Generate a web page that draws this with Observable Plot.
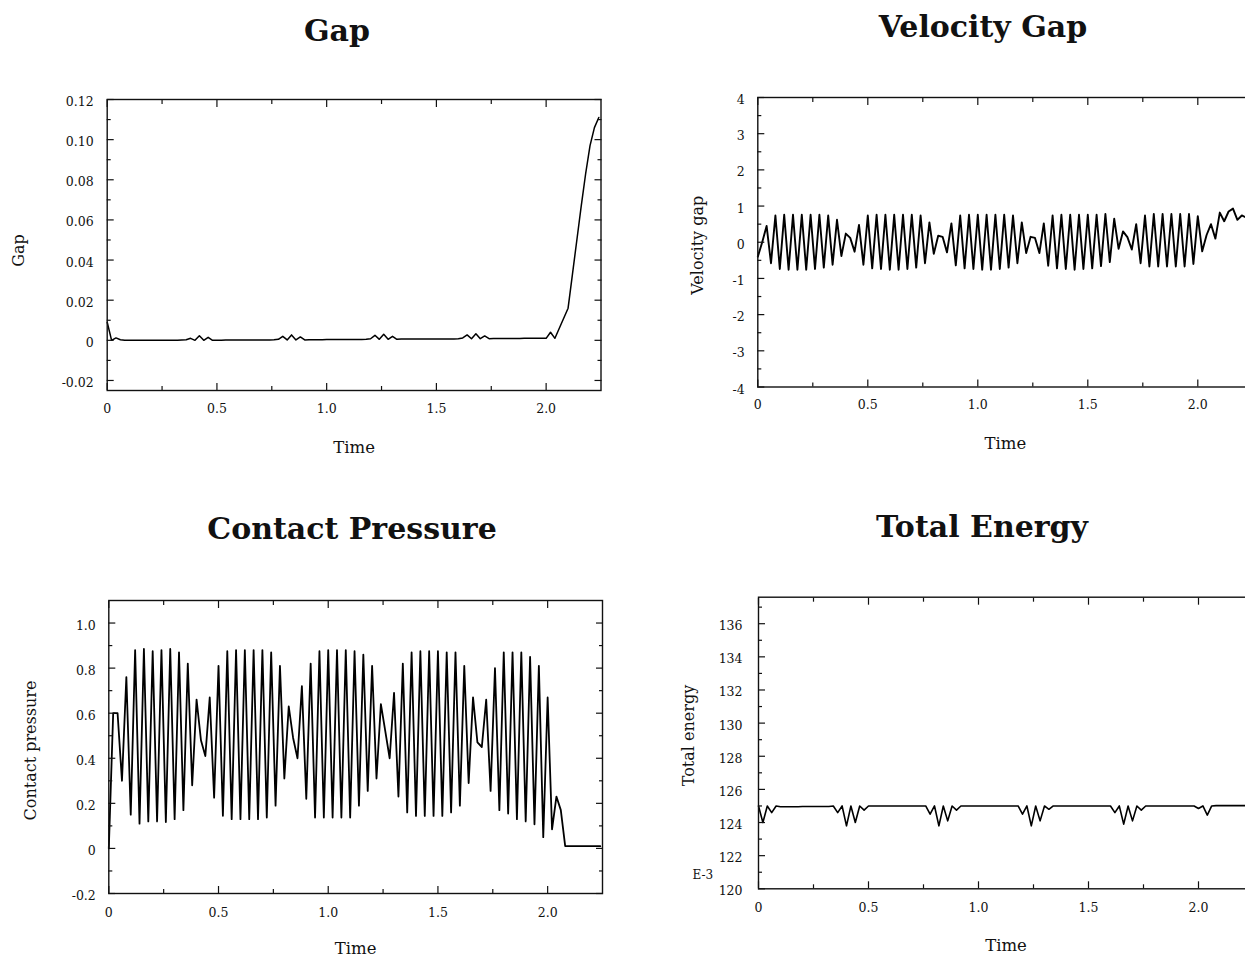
<!DOCTYPE html>
<html>
<head>
<meta charset="utf-8">
<script src="https://cdn.jsdelivr.net/npm/d3@7"></script>
<script src="https://cdn.jsdelivr.net/npm/@observablehq/plot@0.6"></script>
<style>
  html, body { margin: 0; padding: 0; background: #fff; }
  body { width: 1245px; height: 957px; overflow: hidden; position: relative; font-family: "DejaVu Serif", serif; color: #111; }
  .panel { position: absolute; }
  .panel svg { max-width: none !important; }
  .title { position: absolute; width: 500px; margin-left: -250px; text-align: center;
           font-family: "DejaVu Serif", serif; font-weight: bold; font-size: 30px; line-height: 30px; color: #111; }
</style>
</head>
<body>
<script>
// Simulation output, sampled every 0.02 time units (t = 0 … 2.24)
const time = d3.range(113).map(i => +(i * 0.02).toFixed(2));

const gap = [
  0.009, 0.0, 0.0012, 0.0003, 0.0, 0.0, 0.0, 0.0, 0.0, 0.0,
  0.0, 0.0, 0.0, 0.0, 0.0, 0.0, 0.0, 0.0002, 0.0003, 0.001,
  0.0, 0.0023, 0.0, 0.0015, 0.0, 0.0, 0.0, 0.0002, 0.0002, 0.0002,
  0.0002, 0.0002, 0.0002, 0.0002, 0.0002, 0.0002, 0.0002, 0.0002, 0.0003, 0.0005,
  0.002, 0.0002, 0.0027, 0.0002, 0.0017, 0.0002, 0.0003, 0.0003, 0.0003, 0.0003,
  0.0004, 0.0004, 0.0004, 0.0004, 0.0004, 0.0004, 0.0004, 0.0004, 0.0004, 0.0005,
  0.0008, 0.0025, 0.0005, 0.003, 0.0005, 0.002, 0.0005, 0.0006, 0.0006, 0.0006,
  0.0006, 0.0006, 0.0006, 0.0006, 0.0006, 0.0006, 0.0006, 0.0007, 0.0007, 0.0007,
  0.0008, 0.0012, 0.0027, 0.0008, 0.0033, 0.0008, 0.0022, 0.0008, 0.0009, 0.0009,
  0.0009, 0.0009, 0.0009, 0.0009, 0.0009, 0.001, 0.001, 0.001, 0.001, 0.001,
  0.001, 0.004, 0.001, 0.006, 0.011, 0.016, 0.033, 0.05, 0.067, 0.083,
  0.097, 0.106, 0.111
];

const velocityGap = [
  -0.40, 0.00, 0.45, -0.58, 0.74, -0.74, 0.76, -0.76, 0.76, -0.76,
  0.76, -0.76, 0.76, -0.74, 0.76, -0.70, 0.74, -0.62, 0.62, -0.38,
  0.24, 0.12, -0.26, 0.48, -0.62, 0.74, -0.72, 0.76, -0.74, 0.76,
  -0.76, 0.76, -0.76, 0.76, -0.74, 0.76, -0.70, 0.74, -0.58, 0.55,
  -0.32, 0.18, 0.15, -0.28, 0.52, -0.64, 0.74, -0.72, 0.76, -0.74,
  0.76, -0.76, 0.76, -0.76, 0.76, -0.74, 0.76, -0.70, 0.74, -0.58,
  0.55, -0.30, 0.15, 0.12, -0.30, 0.52, -0.65, 0.74, -0.72, 0.76,
  -0.74, 0.76, -0.76, 0.76, -0.74, 0.76, -0.72, 0.76, -0.66, 0.78,
  -0.55, 0.65, -0.18, 0.30, 0.14, -0.20, 0.50, -0.58, 0.74, -0.67,
  0.78, -0.67, 0.78, -0.67, 0.78, -0.67, 0.78, -0.67, 0.78, -0.60,
  0.72, -0.25, 0.20, 0.50, 0.10, 0.82, 0.58, 0.85, 0.93, 0.62,
  0.74, 0.68, 0.72
];

const contactPressure = [
  0.0, 0.6, 0.6, 0.30, 0.76, 0.15, 0.88, 0.11, 0.885, 0.12,
  0.875, 0.12, 0.88, 0.117, 0.885, 0.13, 0.87, 0.17, 0.82, 0.28,
  0.66, 0.48, 0.41, 0.67, 0.225, 0.81, 0.145, 0.875, 0.13, 0.88,
  0.13, 0.88, 0.13, 0.88, 0.13, 0.88, 0.137, 0.87, 0.19, 0.81,
  0.31, 0.63, 0.49, 0.40, 0.72, 0.22, 0.82, 0.137, 0.875, 0.137,
  0.88, 0.137, 0.88, 0.137, 0.88, 0.137, 0.875, 0.19, 0.86, 0.255,
  0.81, 0.31, 0.64, 0.52, 0.40, 0.69, 0.23, 0.82, 0.16, 0.87,
  0.144, 0.875, 0.144, 0.875, 0.144, 0.875, 0.144, 0.87, 0.16, 0.87,
  0.19, 0.81, 0.29, 0.67, 0.47, 0.45, 0.66, 0.255, 0.80, 0.17,
  0.87, 0.155, 0.87, 0.13, 0.87, 0.12, 0.85, 0.107, 0.81, 0.05,
  0.67, 0.085, 0.23, 0.17, 0.01, 0.01, 0.01, 0.01, 0.01, 0.01,
  0.01, 0.01, 0.01
];

// total energy, in units of 1e-3
const totalEnergy = [
  125.0, 124.0, 125.0, 124.6, 125.0, 124.95, 124.95, 124.95, 124.95, 124.95,
  124.97, 124.97, 124.97, 124.97, 124.97, 124.97, 124.97, 125.0, 124.6, 125.0,
  123.8, 125.0, 124.0, 125.0, 124.75, 125.0, 125.0, 125.0, 125.0, 125.0,
  125.0, 125.0, 125.0, 125.0, 125.0, 125.0, 125.0, 125.0, 125.0, 124.5,
  125.0, 123.8, 125.0, 124.1, 125.0, 124.75, 125.0, 125.0, 125.0, 125.0,
  125.0, 125.0, 125.0, 125.0, 125.0, 125.0, 125.0, 125.0, 125.0, 125.0,
  124.5, 125.0, 123.8, 125.0, 124.1, 125.0, 124.8, 125.0, 125.0, 125.0,
  125.0, 125.0, 125.0, 125.0, 125.0, 125.0, 125.0, 125.0, 125.0, 125.0,
  125.0, 124.6, 125.0, 123.9, 125.0, 124.1, 125.0, 124.75, 125.0, 125.0,
  125.0, 125.0, 125.0, 125.0, 125.0, 125.0, 125.0, 125.0, 125.0, 125.0,
  124.85, 125.0, 124.45, 125.0, 125.02, 125.02, 125.02, 125.02, 125.02, 125.02,
  125.02, 125.02, 125.02
];

// tick values
const timeMajor = [0, 0.5, 1.0, 1.5, 2.0];
const timeMinor = [0.25, 0.75, 1.25, 1.75];
const gapMajor = [-0.02, 0, 0.02, 0.04, 0.06, 0.08, 0.10, 0.12];
const gapMinor = [-0.01, 0.01, 0.03, 0.05, 0.07, 0.09, 0.11];
const velMajor = [-4, -3, -2, -1, 0, 1, 2, 3, 4];
const velMinor = [-3.5, -2.5, -1.5, -0.5, 0.5, 1.5, 2.5, 3.5];
const presMajor = [-0.2, 0, 0.2, 0.4, 0.6, 0.8, 1.0];
const presMinor = [-0.1, 0.1, 0.3, 0.5, 0.7, 0.9];
const energyMajor = [120, 122, 124, 126, 128, 130, 132, 134, 136];
const energyMinor = [121, 123, 125, 127, 129, 131, 133, 135, 137];

const hyphen = s => s.replace("\u2212", "-");
const fmtTime = d => d === 0 ? "0" : d.toFixed(1);
const fmtGap = d => d === 0 ? "0" : hyphen(d.toFixed(2));
const fmtVel = d => hyphen(String(d));
const fmtPres = d => d === 0 ? "0" : hyphen(d.toFixed(1));
const fmtEnergy = d => String(d);

const ink = "#111";

function panel(cfg) {
  const {left, top, width, height, frame, series, yDomain, yMajor, yMinor, yFormat,
         yLabel, yLabelDx, yLabelDy = 0, timeDy, xPad, yPad, lineWidth, extra = []} = cfg;
  const data = time.map((t, i) => ({t, v: series[i]}));
  const tick = {stroke: ink, strokeWidth: 1.2, fill: null, label: null};
  const chart = Plot.plot({
    width, height,
    marginLeft: frame.L - left,
    marginRight: left + width - frame.R,
    marginTop: frame.T - top,
    marginBottom: top + height - frame.B,
    style: {fontFamily: '"DejaVu Serif", serif', fontSize: "12.5px", color: ink, background: "transparent", overflow: "visible"},
    x: {domain: [0, 2.25], label: null},
    y: {domain: yDomain, label: null},
    marks: [
      Plot.line(data, {x: "t", y: "v", stroke: "#000", strokeWidth: lineWidth}),
      Plot.frame({stroke: ink, strokeWidth: 1.4}),
      Plot.axisX(timeMajor, {anchor: "bottom", tickSize: 0, tickPadding: xPad, tickFormat: fmtTime, fill: ink, label: null}),
      Plot.axisX(timeMajor, {anchor: "bottom", tickSize: -7, ...tick}),
      Plot.axisX(timeMinor, {anchor: "bottom", tickSize: -4, ...tick}),
      Plot.axisX(timeMajor, {anchor: "top", tickSize: -7, ...tick}),
      Plot.axisX(timeMinor, {anchor: "top", tickSize: -4, ...tick}),
      Plot.axisY(yMajor, {anchor: "left", tickSize: 0, tickPadding: yPad, dy: 2.5, tickFormat: yFormat, fill: ink, label: null}),
      Plot.axisY(yMajor, {anchor: "left", tickSize: -7, ...tick}),
      Plot.axisY(yMinor, {anchor: "left", tickSize: -4, ...tick}),
      Plot.axisY(yMajor, {anchor: "right", tickSize: -7, ...tick}),
      Plot.axisY(yMinor, {anchor: "right", tickSize: -4, ...tick}),
      Plot.text(["Time"], {frameAnchor: "bottom", dy: timeDy, fontSize: 16.5, fill: ink}),
      Plot.text([yLabel], {frameAnchor: "left", textAnchor: "middle", dx: yLabelDx, dy: yLabelDy, rotate: -90, fontSize: 16, fill: ink}),
      ...extra
    ]
  });
  const div = document.createElement("div");
  div.className = "panel";
  div.style.left = left + "px";
  div.style.top = top + "px";
  div.style.width = width + "px";
  div.style.height = height + "px";
  div.appendChild(chart);
  document.body.appendChild(div);
}

function title(text, cx, top) {
  const el = document.createElement("div");
  el.className = "title";
  el.textContent = text;
  el.style.left = cx + "px";
  el.style.top = top + "px";
  document.body.appendChild(el);
}

panel({
  left: 0, top: 60, width: 625, height: 410,
  frame: {L: 106.7, R: 600.5, T: 99, B: 390},
  series: gap, yDomain: [-0.025, 0.12], yMajor: gapMajor, yMinor: gapMinor, yFormat: fmtGap,
  yLabel: "Gap", yLabelDx: -88.7, yLabelDy: 5.5, timeDy: 62, xPad: 13.5, yPad: 13.5, lineWidth: 1.5
});

panel({
  left: 640, top: 60, width: 640, height: 410,
  frame: {L: 757.3, R: 1252.3, T: 97, B: 386.5},
  series: velocityGap, yDomain: [-4, 4], yMajor: velMajor, yMinor: velMinor, yFormat: fmtVel,
  yLabel: "Velocity gap", yLabelDx: -60.3, yLabelDy: 3, timeDy: 61.5, xPad: 13.5, yPad: 13, lineWidth: 1.9
});

panel({
  left: 0, top: 560, width: 625, height: 397,
  frame: {L: 108.3, R: 602, T: 600, B: 893},
  series: contactPressure, yDomain: [-0.2, 1.1], yMajor: presMajor, yMinor: presMinor, yFormat: fmtPres,
  yLabel: "Contact pressure", yLabelDx: -78.3, yLabelDy: 3.5, timeDy: 60, xPad: 15, yPad: 13, lineWidth: 1.8
});

panel({
  left: 640, top: 560, width: 640, height: 397,
  frame: {L: 758, R: 1253, T: 596.7, B: 888.3},
  series: totalEnergy, yDomain: [120, 137.6], yMajor: energyMajor, yMinor: energyMinor, yFormat: fmtEnergy,
  yLabel: "Total energy", yLabelDx: -70, yLabelDy: -7.5, timeDy: 61.7, xPad: 14, yPad: 16, lineWidth: 1.6,
  extra: [Plot.text(["E-3"], {frameAnchor: "bottom-left", dx: -66, dy: -10, textAnchor: "start", fontSize: 12, fill: ink})]
});

title("Gap", 337, 15.5);
title("Velocity Gap", 983, 11.5);
title("Contact Pressure", 352, 513.5);
title("Total Energy", 982, 511.5);
</script>
</body>
</html>
